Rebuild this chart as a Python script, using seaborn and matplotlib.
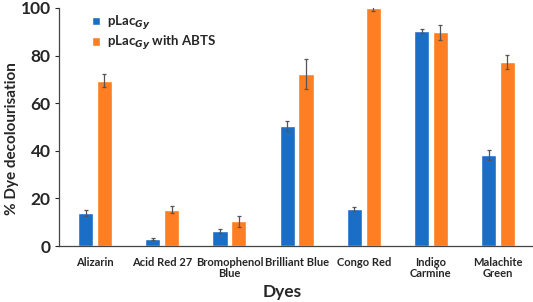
import numpy as np
import pandas as pd
import matplotlib.pyplot as plt
import seaborn as sns

# values
dyes = ['Alizarin', 'Acid Red 27', 'Bromophenol\nBlue', 'Brilliant Blue',
        'Congo Red', 'Indigo\nCarmine', 'Malachite\nGreen']
plac = [13.8, 3.0, 6.5, 50.5, 15.6, 90.3, 38.2]
plac_err = [1.2, 0.3, 0.8, 2.2, 0.8, 0.8, 2.0]
plac_abts = [69.5, 15.3, 10.5, 72.3, 99.8, 89.8, 77.3]
plac_abts_err = [2.8, 1.4, 2.3, 6.4, 1.0, 3.2, 2.8]

series = [r'pLac$_{Gy}$', r'pLac$_{Gy}$ with ABTS']
colors = ['#1b6ec6', '#fd7e23']

df = pd.DataFrame({
    'Dye': dyes * 2,
    'Value': plac + plac_abts,
    'Err': plac_err + plac_abts_err,
    'Series': [series[0]] * len(dyes) + [series[1]] * len(dyes),
})

sns.set_style('white')
plt.rcParams['font.family'] = ['Lato', 'DejaVu Sans']
plt.rcParams['font.weight'] = 'bold'

fig = plt.figure(figsize=(5.33, 3.02), dpi=100)
ax = fig.add_axes([0.111, 0.185, 0.889, 0.789])

sns.barplot(data=df, x='Dye', y='Value', hue='Series', palette=colors,
            width=0.56, gap=0.2, errorbar=None, saturation=1, ax=ax)

# error bars placed on the bar centres
for cont, errs in zip(ax.containers, [plac_err, plac_abts_err]):
    xs = [p.get_x() + p.get_width() / 2 for p in cont.patches]
    ys = [p.get_height() for p in cont.patches]
    ax.errorbar(xs, ys, yerr=errs, fmt='none', ecolor='#555555',
                elinewidth=0.9, capsize=1.5, capthick=0.9)

ax.set_ylim(0, 100)
ax.set_xlim(-0.535, 6.52)
ax.set_yticks([0, 20, 40, 60, 80, 100])
ax.tick_params(axis='y', labelsize=12.5, length=3, width=0.8, left=True, pad=3)
ax.tick_params(axis='x', labelsize=8, length=0, pad=8)
for lab in ax.get_xticklabels() + ax.get_yticklabels():
    lab.set_fontweight('bold')
for lab in ax.get_xticklabels():
    lab.set_linespacing(1.0)

for side in ['top', 'right']:
    ax.spines[side].set_visible(False)
for side in ['left', 'bottom']:
    ax.spines[side].set_color('#444444')
    ax.spines[side].set_linewidth(0.9)

ax.set_ylabel('% Dye decolourisation', fontsize=11, fontweight='bold')
ax.yaxis.set_label_coords(-0.085, 0.45)
ax.set_xlabel('Dyes', fontsize=12.5, fontweight='bold')
ax.xaxis.set_label_coords(0.47, -0.16)

ax.legend(loc='upper left', bbox_to_anchor=(0.045, 1.025), frameon=False,
          handlelength=0.6, handleheight=0.6, handletextpad=0.5,
          labelspacing=0.2, prop={'weight': 'bold', 'size': 9.5})

fig.savefig('out.png', dpi=100)
